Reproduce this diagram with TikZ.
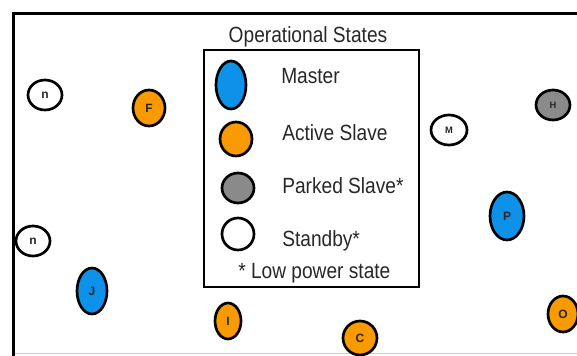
\documentclass[tikz,border=0pt]{standalone}
\usepackage{fontspec}
\setmainfont{Liberation Sans}
\usetikzlibrary{shapes.geometric}
\definecolor{mblue}{RGB}{14,145,232}
\definecolor{morange}{RGB}{248,154,0}
\definecolor{mgray}{RGB}{138,138,138}
\definecolor{mtext}{RGB}{40,40,40}
\newcommand{\lbltext}[1]{\scalebox{0.87}[1]{\fontsize{16.5}{18}\selectfont #1}}
\tikzset{
  dev/.style={ellipse, draw=black, line width=2pt, inner sep=0pt,
    font=\bfseries\fontsize{9}{10}\selectfont, text=black!85},
  small/.style={font=\bfseries\fontsize{7}{8}\selectfont},
  masterdev/.style={dev, fill=mblue},
  activedev/.style={dev, fill=morange},
  parkeddev/.style={dev, fill=mgray},
  standbydev/.style={dev, fill=white},
  lbl/.style={inner sep=0pt, text=mtext, anchor=base west},
}
\begin{document}
\begin{tikzpicture}[x=0.75pt, y=-0.75pt]
\useasboundingbox (0,0) rectangle (577,356);
\fill[white] (0,0) rectangle (577,356);
% outer frame
\draw[line width=0.75pt, black!20] (15,353) -- (577,353);
\draw[line width=2.25pt, black] (13.5,356) -- (13.5,13.5) -- (577,13.5);
% legend box
\node[draw=black, line width=1.5pt, minimum width=161.25pt, minimum height=177.75pt, inner sep=0pt, anchor=north west] (legend) at (203,49) {};
\node[inner sep=0pt, text=mtext, anchor=base] (title) at (308,43) {\lbltext{Operational States}};
% legend symbols
\node[masterdev, minimum width=22.5pt, minimum height=36pt] (lmaster) at (231,85) {};
\node[activedev, minimum width=24pt, minimum height=25.5pt] (lactive) at (236,139) {};
\node[parkeddev, minimum width=24pt, minimum height=22.5pt] (lparked) at (238,188) {};
\node[standbydev, minimum width=24pt, minimum height=24pt] (lstandby) at (238,234) {};
\node[lbl] (tmaster) at (281,84) {\lbltext{Master}};
\node[lbl] (tactive) at (282,140) {\lbltext{Active Slave}};
\node[lbl] (tparked) at (282,193) {\lbltext{Parked Slave*}};
\node[lbl] (tstandby) at (282,246) {\lbltext{Standby*}};
\node[lbl] (tlow) at (238,278) {\lbltext{* Low power state}};
% scattered devices
\node[standbydev, minimum width=25.5pt, minimum height=22.5pt] (n1) at (45,95) {n};
\node[activedev, minimum width=24pt, minimum height=27pt] (F) at (149,108) {F};
\node[standbydev, small, minimum width=27pt, minimum height=22.5pt] (M) at (449,130) {M};
\node[parkeddev, small, minimum width=25.5pt, minimum height=22.5pt] (H) at (553,105) {H};
\node[standbydev, minimum width=25.5pt, minimum height=22.5pt] (n2) at (33,241) {n};
\node[masterdev, minimum width=22.5pt, minimum height=34.5pt] (J) at (92,291) {J};
\node[activedev, minimum width=19.5pt, minimum height=27pt] (I) at (228,321) {I};
\node[activedev, minimum width=25.5pt, minimum height=25.5pt] (C) at (360,338) {C};
\node[masterdev, minimum width=25.5pt, minimum height=36pt] (P) at (507,216) {P};
\node[activedev, minimum width=22.5pt, minimum height=27pt] (O) at (563,314) {O};
\end{tikzpicture}
\end{document}
